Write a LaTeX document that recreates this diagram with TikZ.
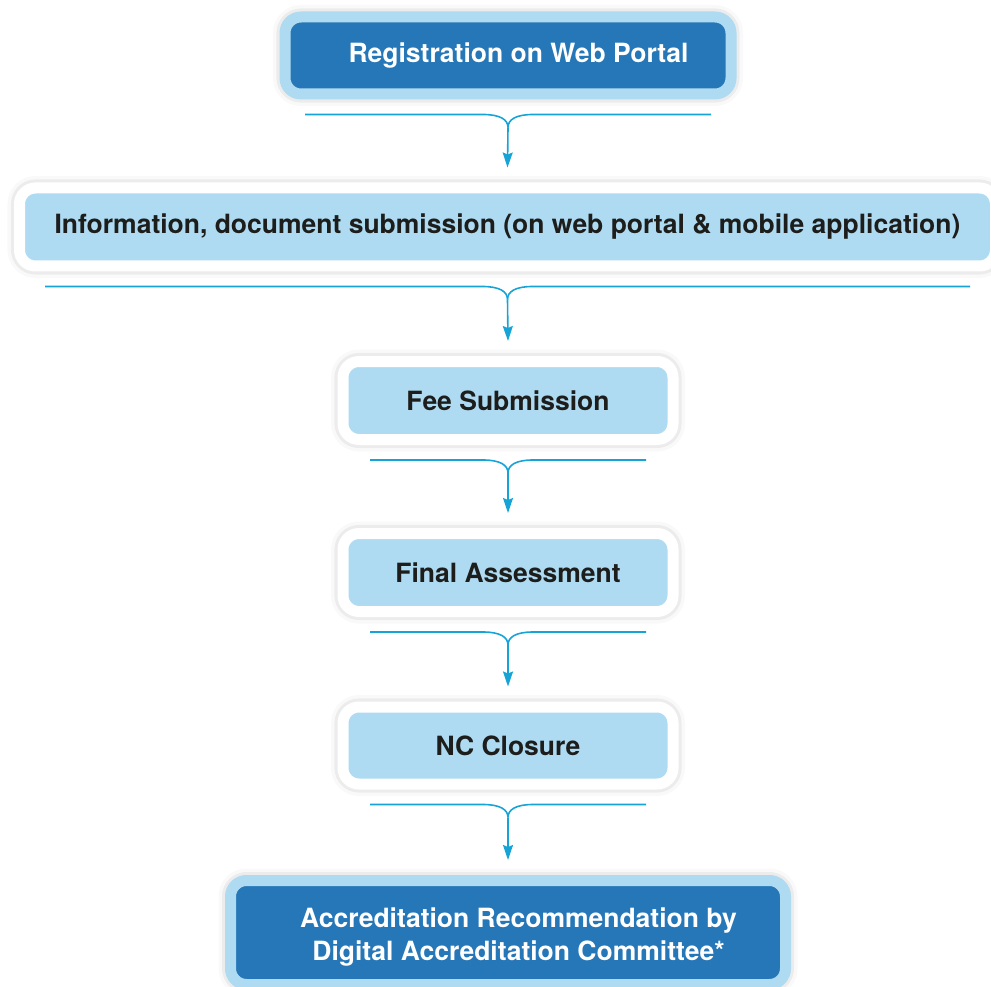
\documentclass[tikz,border=0pt]{standalone}
\usepackage{fontspec}
\setmainfont{TeX Gyre Heros}
\usetikzlibrary{calc,arrows.meta,shadows.blur}
\definecolor{portalblue}{HTML}{2677B8}
\definecolor{skyblue}{HTML}{AEDBF2}
\definecolor{linkcyan}{HTML}{16A4D7}
\definecolor{inkblack}{HTML}{1D1D1B}
\tikzset{
  stage/.style={rectangle, rounded corners=16pt, line width=11pt, inner sep=0pt,
    minimum height=78pt, align=center, font=\bfseries\fontsize{26.5}{33}\selectfont,
    blur shadow={shadow xshift=0pt, shadow yshift=0pt, shadow blur radius=12pt, shadow opacity=40}},
  darkstage/.style={stage, fill=portalblue, draw=skyblue, text=white},
  lightstage/.style={stage, fill=skyblue, draw=white, text=inkblack},
  link/.style={draw=linkcyan, line width=1.6pt},
}
\begin{document}
\begin{tikzpicture}[x=1pt,y=1pt]
    \useasboundingbox (0,0) rectangle (991,-987);
    \node[darkstage, minimum width=446pt, minimum height=77pt] (reg) at (508,-55.5)
      {\hspace*{21pt}Registration on Web Portal};
    \node[lightstage, minimum width=976pt] (info) at (507.5,-227)
      {Information, document submission (on web portal \& mobile application)};
    \node[lightstage, minimum width=330pt] (fee) at (508,-400.5) {Fee Submission};
    \node[lightstage, minimum width=330pt] (final) at (508,-572.5) {Final Assessment};
    \node[lightstage, minimum width=330pt, minimum height=77pt] (nc) at (508,-745.5) {NC Closure};
    \node[darkstage, minimum width=555pt, minimum height=104pt] (accr) at (508,-932.5)
      {\raisebox{-5pt}[\height][\depth]{\begin{tabular}{@{}c@{}}\hspace*{21pt}Accreditation Recommendation by\\
        \hspace*{21pt}Digital Accreditation Committee*\end{tabular}}};
    \foreach \a/\b/\w in {reg/info/203, info/fee/462.5, fee/final/138, final/nc/138, nc/accr/138}{
      \coordinate (\a-l) at ($(\a.south)+(-\w,-15)$);
      \coordinate (\a-r) at ($(\a.south)+(\w,-15)$);
      \coordinate (\a-m) at ($(\a.south)+(0,-28)$);
      \coordinate (\b-in) at ($(\b.north)+(0,15)$);
      \draw[link] (\a-l) -- ($(\a.south)+(-25,-15)$)
        .. controls ($(\a.south)+(-8,-15)$) and ($(\a.south)+(0,-20)$) .. (\a-m);
      \draw[link] (\a-r) -- ($(\a.south)+(25,-15)$)
        .. controls ($(\a.south)+(8,-15)$) and ($(\a.south)+(0,-20)$) .. (\a-m);
      \draw[link, -{Stealth[length=15pt, width=10pt, inset=2pt]}] (\a-m) -- (\b-in);
    }
  \end{tikzpicture}
\end{document}
